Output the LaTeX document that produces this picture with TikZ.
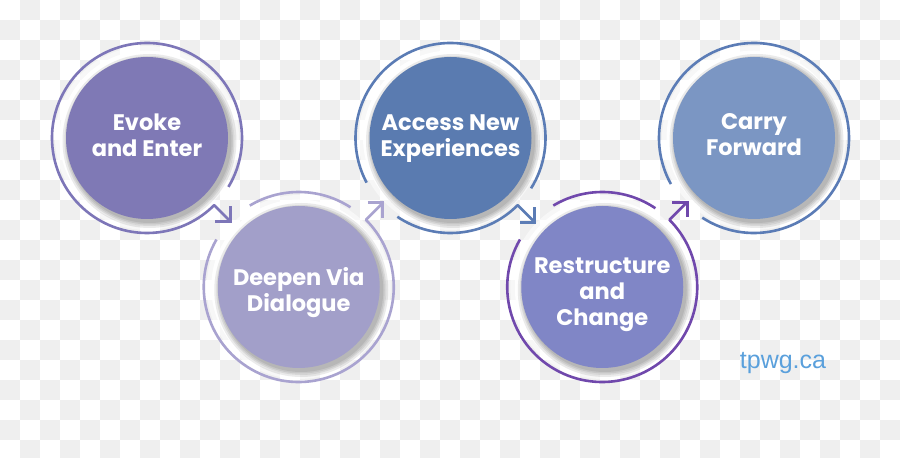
\documentclass[tikz,border=0pt]{standalone}
\usepackage{fontspec}
\setmainfont{Liberation Sans}
\newfontfamily\labfont{Poppins}
\usetikzlibrary{calc}
\definecolor{bgchk}{HTML}{EFEFEF}
\definecolor{f1}{RGB}{127,121,181}
\definecolor{f2}{RGB}{162,159,201}
\definecolor{f3}{RGB}{90,123,176}
\definecolor{f4}{RGB}{128,134,198}
\definecolor{f5}{RGB}{123,150,195}
\definecolor{r1}{RGB}{125,118,184}
\definecolor{r2}{RGB}{169,163,208}
\definecolor{r3}{RGB}{91,124,181}
\definecolor{r4}{RGB}{112,72,172}
\definecolor{r5}{RGB}{91,124,182}
\definecolor{tp}{RGB}{90,160,220}
\tikzset{
  bub/.style={circle, minimum size=162pt, inner sep=0pt},
  txt/.style={align=center, text=white, inner sep=0pt,
    font=\labfont\bfseries\fontsize{22.5}{26}\selectfont},
  ring/.style={line width=2.6pt, line join=round, line cap=butt},
  chev/.style={line width=2.8pt, line join=miter, line cap=butt}
}
\begin{document}
\begin{tikzpicture}[x=1pt,y=1pt]
\useasboundingbox (0,0) rectangle (900,458);
\fill[white] (0,0) rectangle (900,458);
\begin{scope}
\clip (0,0) rectangle (900,458);
\foreach \i in {0,...,44}{\foreach \j in {0,...,22}{%
  \pgfmathtruncatemacro\s{\i+\j}%
  \ifodd\s \fill[bgchk] (20*\i,438-20*\j) rectangle ++(20,20);\fi}}
\end{scope}
% centres
\coordinate (p1) at (147,320);
\coordinate (p2) at (298.75,171);
\coordinate (p3) at (450.5,320);
\coordinate (p4) at (602.25,171);
\coordinate (p5) at (754,320);
% halo and shadow
\foreach \p in {p1,p2,p3,p4,p5}{
  \fill[white,opacity=0.5] (\p) circle (92);
  \fill[white,opacity=0.9] (\p) circle (87.5);
  \foreach \r in {87,85,83.5,82}{\fill[black,opacity=0.08] ($(\p)+(2.5,-3)$) circle (\r);}
}
% circles
\node[bub, fill=f1] (c1) at (p1) {};
\node[bub, fill=f2] (c2) at (p2) {};
\node[bub, fill=f3] (c3) at (p3) {};
\node[bub, fill=f4] (c4) at (p4) {};
\node[bub, fill=f5] (c5) at (p5) {};
\node[txt] (l1) at ($(c1.center)+(0,3)$) {Evoke\\and Enter};
\node[txt] (l2) at ($(c2.center)+(0,-6)$) {Deepen Via\\Dialogue};
\node[txt] (l3) at ($(c3.center)+(0,-1)$) {Access New\\Experiences};
\node[txt] (l4) at ($(c4.center)+(0,-8)$) {Restructure\\and\\Change};
\node[txt] (l5) at ($(c5.center)+(0,3)$) {Carry\\Forward};
% ring 1
\draw[ring, draw=r1] ($(c1.center)+(-31:95)$) arc[start angle=-31, end angle=315, radius=95]
  -- ($(c1.center)+(-45:118)$) coordinate (t1);
\draw[chev, draw=r1] ($(t1)+(0,15)$) -- (t1) -- ($(t1)+(-15,0)$);
% ring 2
\draw[ring, draw=r2] ($(c2.center)+(57:95)$) arc[start angle=57, end angle=121, radius=95];
\draw[ring, draw=r2] ($(c2.center)+(150:95)$) arc[start angle=150, end angle=405, radius=95]
  -- ($(c2.center)+(45:119)$) coordinate (t2);
\draw[chev, draw=r2] ($(t2)+(-15,0)$) -- (t2) -- ($(t2)+(0,-15)$);
% ring 3
\draw[ring, draw=r3] ($(c3.center)+(-32:95)$) arc[start angle=-32, end angle=208, radius=95];
\draw[ring, draw=r3] ($(c3.center)+(236:95)$) arc[start angle=236, end angle=315, radius=95]
  -- ($(c3.center)+(-45:119)$) coordinate (t3);
\draw[chev, draw=r3] ($(t3)+(0,15)$) -- (t3) -- ($(t3)+(-15,0)$);
% ring 4
\draw[ring, draw=r4] ($(c4.center)+(56:95)$) arc[start angle=56, end angle=121, radius=95];
\draw[ring, draw=r4] ($(c4.center)+(150:95)$) arc[start angle=150, end angle=405, radius=95]
  -- ($(c4.center)+(45:120)$) coordinate (t4);
\draw[chev, draw=r4] ($(t4)+(-15,0)$) -- (t4) -- ($(t4)+(0,-15)$);
% ring 5
\draw[ring, draw=r5] ($(c5.center)+(237:95)$) arc[start angle=237, end angle=569, radius=95];
% watermark
\node[font=\fontsize{25}{30}\selectfont, text=tp] (wm) at (783,95) {tpwg.ca};
\end{tikzpicture}
\end{document}
